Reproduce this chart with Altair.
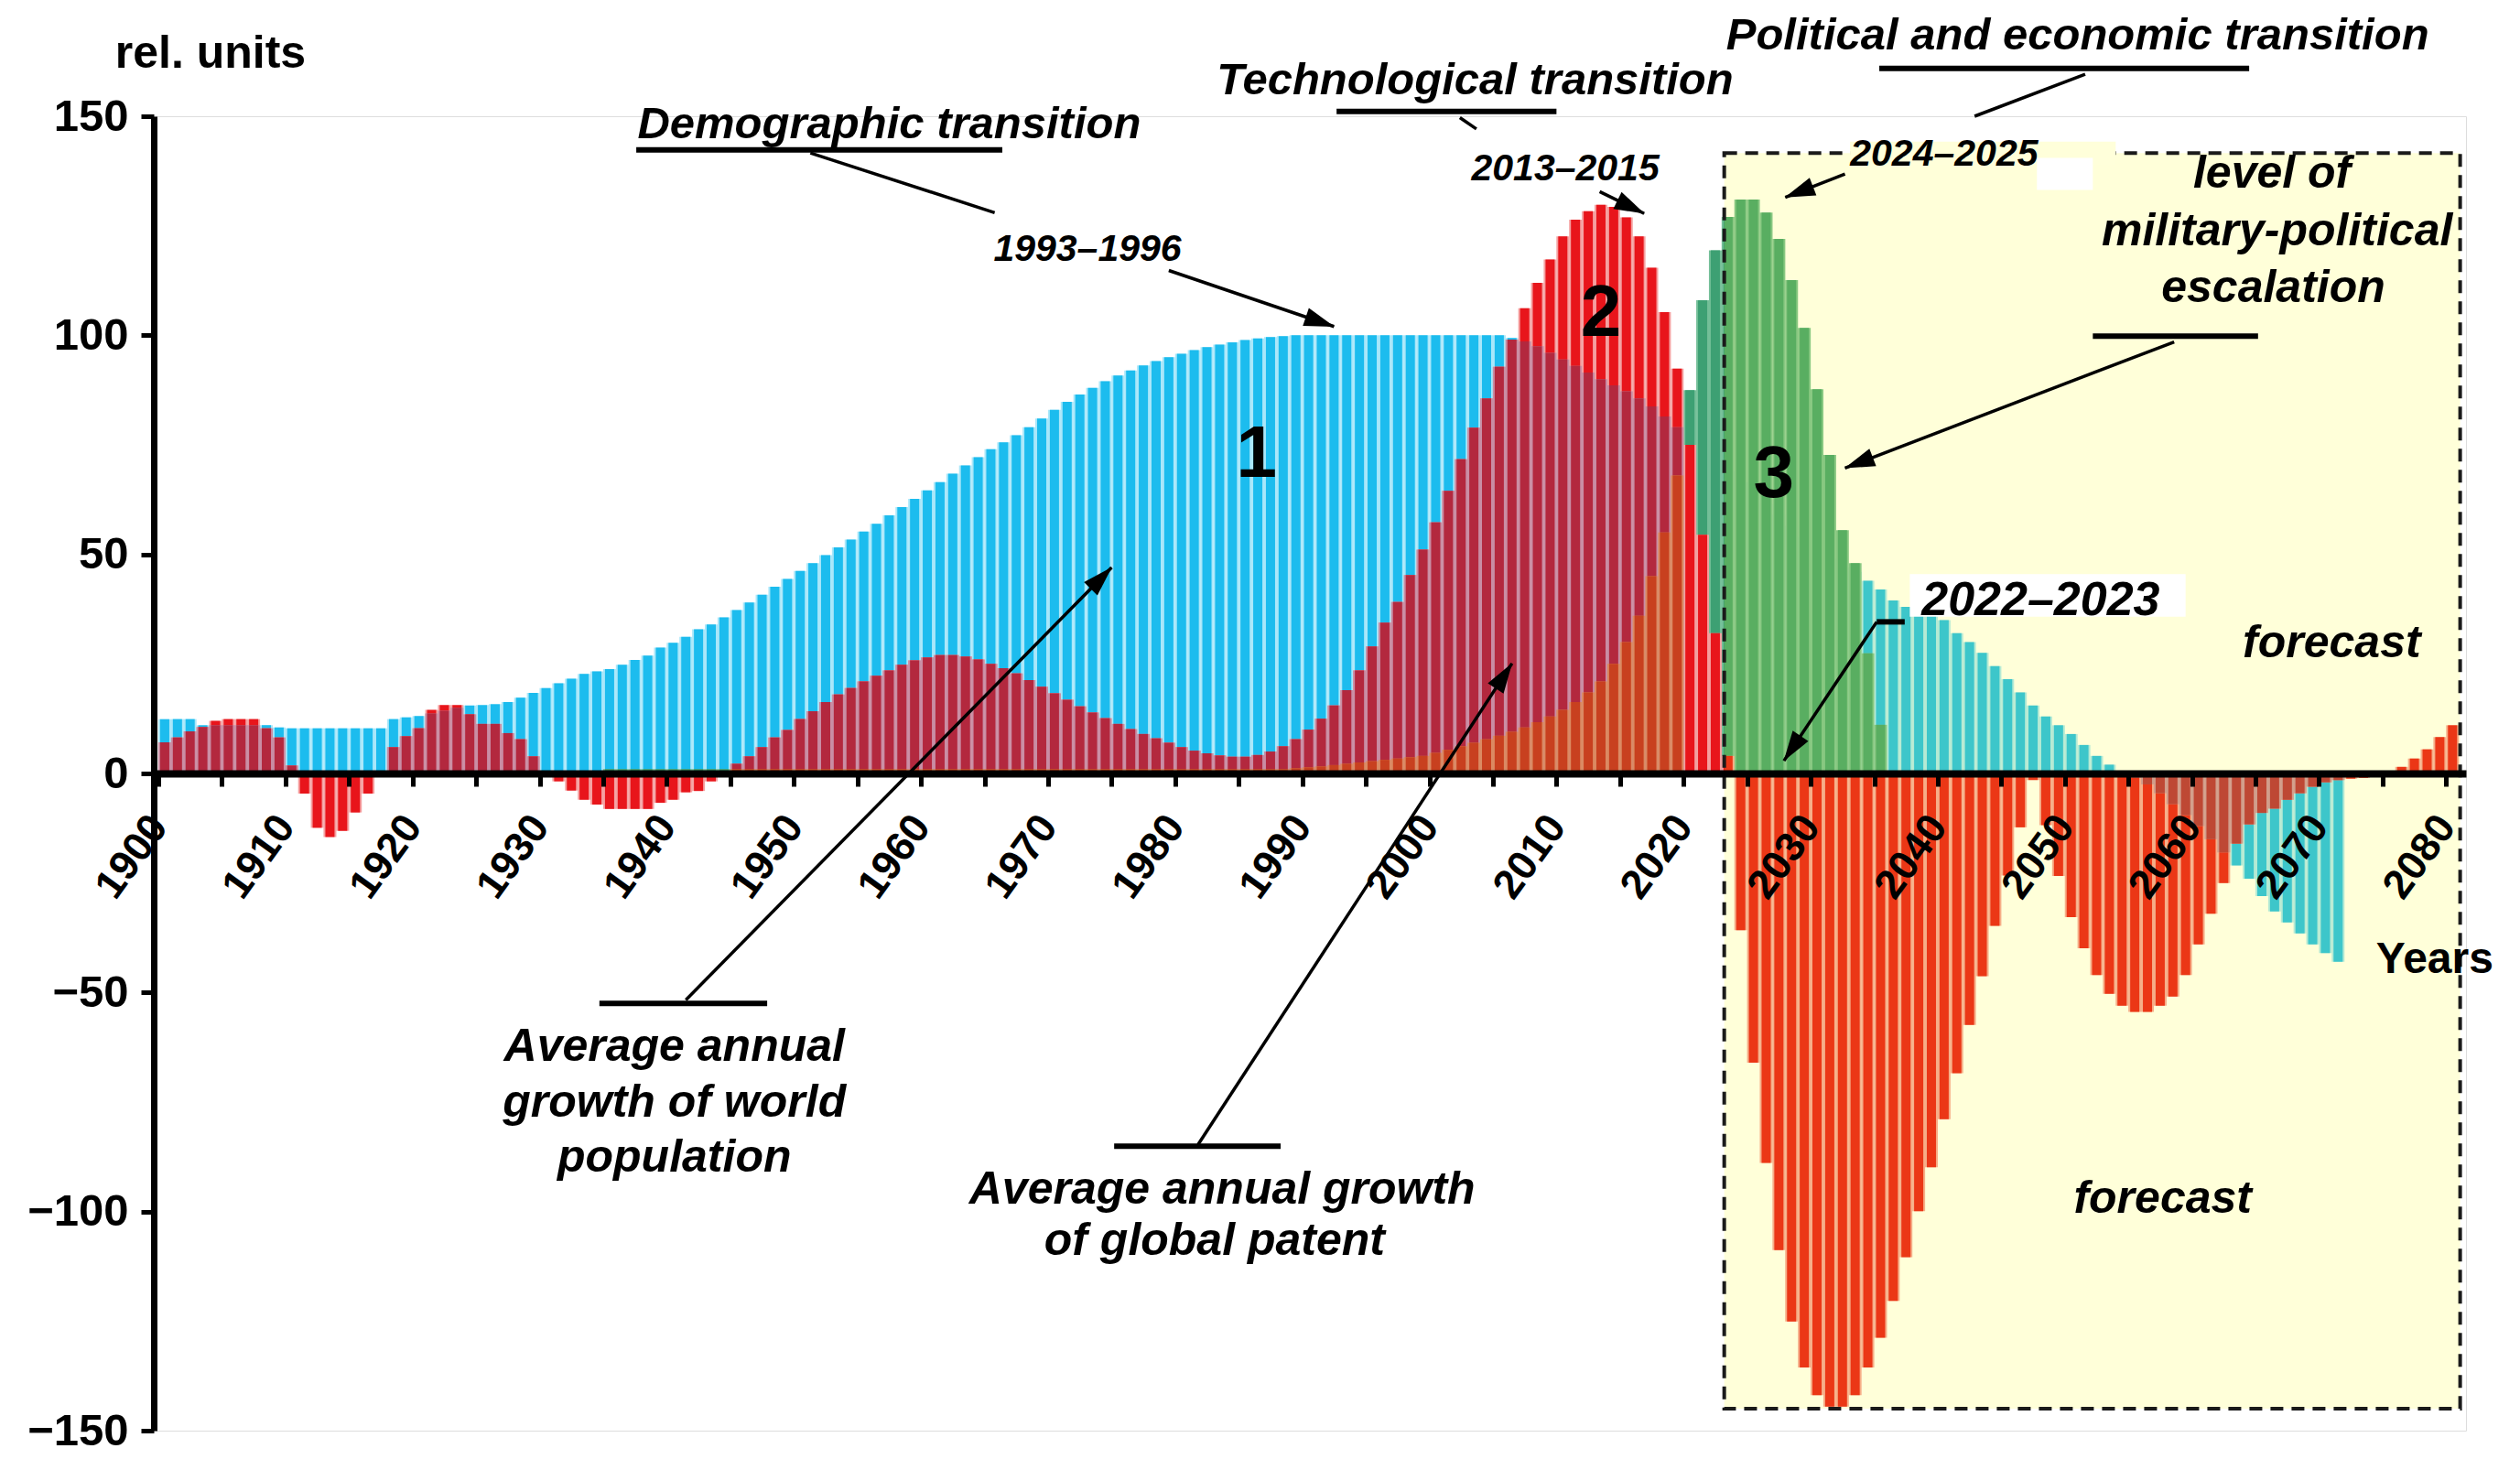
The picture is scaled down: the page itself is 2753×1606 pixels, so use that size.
import math
import numpy as np
import pandas as pd
import altair as alt

# ---------------- data ----------------
years = list(range(1900, 2081))

# 1 - average annual growth of world population (1900-2071)
cyan_values = [
    12.4, 12.4, 12.4, 11.0, 11.0, 11.0, 11.0, 11.0, 11.0, 10.5,
    10.3, 10.3, 10.3, 10.3, 10.3, 10.3, 10.3, 10.3, 12.4, 12.8,
    13.1, 13.7, 14.3, 15.0, 15.5, 15.6, 15.8, 16.3, 17.3, 18.4,
    19.5, 20.6, 21.6, 22.7, 23.3, 23.8, 24.8, 25.9, 26.9, 28.7,
    29.8, 31.2, 32.9, 34.0, 35.6, 37.3, 39.0, 40.8, 42.6, 44.4,
    46.2, 48.0, 49.8, 51.6, 53.4, 55.2, 57.0, 58.9, 60.8, 62.7,
    64.6, 66.5, 68.4, 70.3, 72.2, 74.0, 75.6, 77.2, 79.0, 81.0,
    83.0, 84.8, 86.5, 88.0, 89.5, 90.8, 92.0, 93.1, 94.1, 95.0,
    95.8, 96.6, 97.3, 97.9, 98.4, 98.9, 99.3, 99.6, 99.8, 100.0,
    100.0, 100.0, 100.0, 100.0, 100.0, 100.0, 100.0, 100.0, 100.0, 100.0,
    100.0, 100.0, 100.0, 100.0, 100.0, 100.0, 99.4, 98.6, 97.5, 96.0,
    94.5, 93.0, 91.5, 90.0, 88.6, 87.2, 85.6, 83.8, 81.5, 79.0,
    76.5, 74.0, 71.5, 69.0, 66.5, 64.0, 61.5, 59.0, 56.5, 54.0,
    51.5, 49.0, 47.0, 46.0, 44.0, 42.0, 39.5, 38.0, 37.0, 36.0,
    35.0, 32.0, 30.0, 27.5, 24.5, 21.5, 18.5, 15.5, 13.0, 11.0,
    9.0, 6.5, 4.0, 2.0, 0.5, -1.0, -2.5, -4.5, -7.0, -9.5,
    -12.0, -15.0, -18.0, -21.0, -24.0, -28.0, -31.5, -34.0, -36.5, -39.0,
    -41.0, -43.0,
]

# 2 - average annual growth of global patent (1900-2080)
red_values = [
    7.1, 8.2, 9.6, 10.6, 12.0, 12.4, 12.4, 12.4, 10.3, 8.2,
    1.8, -4.6, -12.4, -14.5, -13.1, -8.9, -4.6, 0.0, 6.0, 8.5,
    10.3, 14.5, 15.6, 15.6, 13.5, 11.3, 11.3, 9.2, 7.8, 3.9,
    0.5, -1.8, -3.9, -6.0, -7.1, -8.1, -8.1, -8.1, -8.1, -6.7,
    -6.0, -4.3, -4.0, -1.8, -0.5, 2.2, 3.9, 6.0, 8.2, 9.9,
    12.4, 14.2, 16.3, 18.0, 19.5, 21.0, 22.3, 23.5, 24.8, 25.8,
    26.5, 27.0, 27.0, 26.7, 26.0, 25.0, 24.0, 22.8, 21.3, 19.8,
    18.3, 16.8, 15.3, 13.9, 12.6, 11.3, 10.1, 9.0, 8.0, 7.0,
    6.0, 5.2, 4.6, 4.1, 3.8, 3.8, 4.2, 5.0, 6.2, 7.8,
    10.0, 12.5, 15.5, 19.0, 23.5, 29.0, 34.4, 39.1, 45.3, 51.1,
    57.3, 64.5, 71.7, 78.9, 85.6, 92.8, 99.0, 106.2, 112.0, 117.3,
    122.6, 126.4, 128.3, 129.8, 129.3, 126.9, 122.6, 115.4, 105.3, 92.4,
    75.0, 54.5, 32.0, 4.0, -35.8, -66.0, -88.9, -108.8, -125.1, -135.6,
    -141.9, -144.5, -144.5, -141.9, -135.6, -128.8, -120.4, -110.4, -99.9, -89.9,
    -78.9, -68.4, -57.4, -46.3, -34.8, -23.3, -12.3, -1.5, -11.8, -23.4,
    -32.8, -39.9, -46.0, -50.3, -53.0, -54.4, -54.4, -53.0, -50.9, -46.0,
    -39.0, -32.0, -25.0, -16.0, -11.6, -9.0, -8.0, -6.0, -4.5, -3.0,
    -2.0, -1.5, -1.2, -1.0, -0.5, 0.5, 1.5, 3.4, 5.5, 8.3,
    11.0,
]

# 3 - level of military-political escalation (1935-2035)
green_start = 1935
green_values = [
    1.0, 1.0, 1.0, 1.0, 1.0, 1.0, 1.0, 1.0, 1.0, 1.0,
    1.0, 1.0, 1.0, 1.0, 1.0, 1.0, 1.0, 1.0, 1.0, 1.0,
    1.0, 1.0, 1.0, 1.0, 1.0, 1.0, 1.0, 1.0, 1.0, 1.0,
    1.0, 1.0, 1.0, 1.0, 1.0, 1.0, 1.0, 1.0, 1.0, 1.0,
    1.0, 1.0, 1.0, 1.0, 1.0, 1.0, 1.0, 1.0, 1.0, 1.0,
    1.0, 1.0, 1.0, 1.0,
    1.2, 1.4, 1.6, 1.9, 2.2, 2.5, 2.8, 3.1, 3.4, 3.7,
    4.0, 4.7, 5.4, 6.2, 7.0, 7.8, 8.6, 9.5, 10.5, 11.7,
    13.0, 14.5, 16.3, 18.5, 21.0, 25.0, 30.0, 36.0, 45.0, 55.0,
    68.0, 87.5, 108.0, 119.4, 127.0, 131.0, 131.0, 128.0, 122.0, 112.6,
    101.7, 87.7, 72.7, 55.5, 48.0, 27.4, 11.1,
]

y_ticks = [-150, -100, -50, 0, 50, 100, 150]

# forecast zone and label patches (data coordinates)
forecast_zone = {"x": 2022.7, "x2": 2080.6, "y": -145.0, "y2": 141.6}
white_patches = [
    {"x": 2037.3, "x2": 2059.0, "y": 35.8, "y2": 45.5},
    {"x": 2047.3, "x2": 2051.7, "y": 133.2, "y2": 140.5},
]
border_gap = {"x": 2032.6, "x2": 2053.5, "y": 139.0, "y2": 144.2}

italic_labels = [
    ("Demographic transition", 1957.0, 148.2, 49),
    ("1993\u20131996", 1972.6, 119.6, 41),
    ("Technological transition", 2003.1, 158.1, 49),
    ("2013\u20132015", 2010.2, 137.9, 41),
    ("Political and economic transition", 2050.5, 168.4, 49),
    ("2024\u20132025", 2040.0, 141.2, 41),
    ("level of", 2065.8, 136.8, 50),
    ("military-political", 2066.2, 123.6, 50),
    ("escalation", 2065.9, 110.8, 50),
    ("2022\u20132023", 2047.6, 39.5, 52),
    ("forecast", 2070.5, 29.7, 50),
    ("forecast", 2057.2, -97.2, 50),
    ("Average annual", 1940.1, -62.4, 50),
    ("growth of world", 1940.1, -75.2, 50),
    ("population", 1940.1, -87.7, 50),
    ("Average annual growth", 1983.2, -95.0, 50),
    ("of global patent", 1982.6, -106.7, 50),
]
plain_labels = [
    ("rel. units", 1903.6, 164.3, 50),
    ("Years", 2078.6, -42.6, 48),
    ("1", 1985.9, 72.6, 80),
    ("2", 2013.0, 104.9, 80),
    ("3", 2026.6, 68.2, 80),
]

# leader bars (thick) and leader lines / arrows (thin), data coordinates
leader_bars = [
    (1937.1, 142.3, 1965.9, 142.3),
    (1992.2, 151.1, 2009.5, 151.1),
    (2034.9, 160.9, 2064.0, 160.9),
    (2034.7, 34.6, 2036.9, 34.6),
    (2051.7, 99.8, 2064.7, 99.8),
    (1934.2, -52.5, 1947.4, -52.5),
    (1974.7, -85.1, 1987.8, -85.1),
]
leader_lines = [
    (1950.8, 141.6, 1965.3, 128.0),
    (2001.9, 149.7, 2003.2, 147.1),
    (2051.1, 159.6, 2042.4, 150.0),
]
arrows = [
    (1979.0, 114.8, 1992.0, 102.0),
    (2012.9, 132.8, 2016.4, 127.8),
    (2032.2, 136.8, 2027.5, 131.5),
    (2034.7, 34.6, 2027.4, 2.9),
    (2058.1, 98.5, 2032.2, 69.7),
    (1941.0, -51.7, 1974.5, 47.0),
    (1981.3, -84.7, 2006.0, 25.1),
]

# ---------------- layout / styles ----------------
W, H = 2526, 1436
X0, X1 = 1899.5, 2080.7
Y0, Y1 = -150.0, 150.0
FONT = "Liberation Sans"
# (bar colour, tint seen in the gaps between bars)
CYAN = ("#1CBCEE", "#A9E7FA")
GREEN = ("#3DA073", "#74BF98")
RED = ("#E8151B", "#F5A0A0")
MAROON = ("#B3283E", "#C98DA4")
BROWN = ("#C8401F", "#DB8A62")
BAR_W = 10
GAP_W = 14
HEAD_SHAPE = "M0,-1L0.62,1L-0.62,1Z"
HEAD_SIZE = 1100
HEAD_BACK = 16

n = len(years)


def series(vals, start):
    arr = np.full(n, np.nan)
    arr[start - 1900:start - 1900 + len(vals)] = vals
    return arr


c = series(cyan_values, 1900)
r = series(red_values, 1900)
g = series(green_values, green_start)
gg = np.nan_to_num(g, nan=-1e9)
cc = np.nan_to_num(c, nan=0.0)
rr = np.nan_to_num(r, nan=0.0)

# red drawn over cyan -> maroon (not where green already covers the red bar)
oc_mask = (rr * cc > 0) & ~((gg >= rr) & (rr > 0))
oc = np.where(oc_mask, np.sign(rr) * np.minimum(np.abs(rr), np.abs(cc)), np.nan)
# red drawn over green -> brownish red
og = np.where((gg > 0) & (rr > gg), gg, np.nan)


def frame(vals):
    d = pd.DataFrame({"year": years, "v": vals})
    return d.dropna().reset_index(drop=True)


xs = alt.Scale(domain=[X0, X1], nice=False, zero=False)
ys = alt.Scale(domain=[Y0, Y1], nice=False, zero=False)

xaxis = alt.Axis(
    values=[1899.5 + 5 * i for i in range(37)],
    labelExpr="((datum.value + 0.5) % 10 == 0) ? toString(datum.value + 0.5) : ''",
    labelAngle=-54, labelAlign="right", labelBaseline="middle",
    labelFont=FONT, labelFontSize=45, labelFontWeight="bold", labelColor="black",
    labelOffset=0, labelPadding=36, labelOverlap=False, labelBound=False, labelFlush=False,
    tickSize=14, tickWidth=5, tickColor="black",
    domainColor="black", domainWidth=8, offset=-718,
    grid=False, title=None, zindex=1,
)
yaxis = alt.Axis(
    values=y_ticks, labelFont=FONT, labelFontSize=49, labelFontWeight="bold",
    labelColor="black", labelPadding=14, tickSize=14, tickWidth=5, tickColor="black",
    domainColor="black", domainWidth=7, grid=False, title=None, zindex=1,
)


def X(field):
    return alt.X(field, type="quantitative", scale=xs, axis=xaxis)


def Y(field):
    return alt.Y(field, type="quantitative", scale=ys, axis=yaxis, stack=None)


def bar_layers(vals, colors):
    d = frame(vals)
    under = alt.Chart(d).mark_bar(width=GAP_W, color=colors[1], strokeWidth=0).encode(
        x=X("year"), y=Y("v"), y2=alt.datum(0))
    top = alt.Chart(d).mark_bar(width=BAR_W, color=colors[0], strokeWidth=0).encode(
        x=X("year"), y=Y("v"), y2=alt.datum(0))
    return [under, top]


layers = []
layers += bar_layers(c, CYAN)
layers += bar_layers(g, GREEN)
layers += bar_layers(r, RED)
layers += bar_layers(oc, MAROON)
layers += bar_layers(og, BROWN)

zone_df = pd.DataFrame([forecast_zone])
layers.append(
    alt.Chart(zone_df).mark_rect(color="#FFFF00", opacity=0.15).encode(
        x=X("x"), x2="x2", y=Y("y"), y2="y2")
)
layers.append(
    alt.Chart(zone_df).mark_rect(fillOpacity=0, stroke="#1a1a1a", strokeWidth=4,
                                 strokeDash=[14, 9]).encode(
        x=X("x"), x2="x2", y=Y("y"), y2="y2")
)
layers.append(
    alt.Chart(pd.DataFrame([border_gap])).mark_rect(color="#FFFFDA").encode(
        x=X("x"), x2="x2", y=Y("y"), y2="y2")
)
layers.append(
    alt.Chart(pd.DataFrame(white_patches)).mark_rect(color="white").encode(
        x=X("x"), x2="x2", y=Y("y"), y2="y2")
)

# leader bars and lines
bars_df = pd.DataFrame(leader_bars, columns=["x", "y", "x2", "y2"])
layers.append(
    alt.Chart(bars_df).mark_rule(color="black", strokeWidth=6).encode(
        x=X("x"), y=Y("y"), x2="x2", y2="y2")
)
lines_df = pd.DataFrame(leader_lines + arrows, columns=["x", "y", "x2", "y2"])
layers.append(
    alt.Chart(lines_df).mark_rule(color="black", strokeWidth=3.5).encode(
        x=X("x"), y=Y("y"), x2="x2", y2="y2")
)

# arrowheads
PXX = W / (X1 - X0)
PXY = H / (Y1 - Y0)
heads = []
for (x0, y0, x1, y1) in arrows:
    px0, py0 = (x0 - X0) * PXX, (Y1 - y0) * PXY
    px1, py1 = (x1 - X0) * PXX, (Y1 - y1) * PXY
    dx, dy = px1 - px0, py1 - py0
    L = math.hypot(dx, dy)
    ux, uy = dx / L, dy / L
    cx, cy = px1 - ux * HEAD_BACK, py1 - uy * HEAD_BACK
    ang = math.degrees(math.atan2(dx, -dy)) % 360
    heads.append({"x": X0 + cx / PXX, "y": Y1 - cy / PXY, "ang": ang})
layers.append(
    alt.Chart(pd.DataFrame(heads)).mark_point(shape=HEAD_SHAPE, filled=True, color="black",
                                              opacity=1, size=HEAD_SIZE, strokeWidth=0).encode(
        x=X("x"), y=Y("y"), angle=alt.Angle("ang:Q", scale=None))
)

# texts
it_df = pd.DataFrame(italic_labels, columns=["t", "x", "y", "s"])
layers.append(
    alt.Chart(it_df).mark_text(font=FONT, fontStyle="italic", fontWeight="bold",
                               color="black", align="center", baseline="middle").encode(
        x=X("x"), y=Y("y"), text="t:N", size=alt.Size("s:Q", scale=None))
)
pl_df = pd.DataFrame(plain_labels, columns=["t", "x", "y", "s"])
layers.append(
    alt.Chart(pl_df).mark_text(font=FONT, fontWeight="bold",
                               color="black", align="center", baseline="middle").encode(
        x=X("x"), y=Y("y"), text="t:N", size=alt.Size("s:Q", scale=None))
)

chart = alt.layer(*layers).properties(
    width=W, height=H,
    autosize=alt.AutoSizeParams(type="none"),
    padding={"left": 160, "top": 119, "right": 40, "bottom": 25},
    background="white",
).configure_view(stroke=None).configure(font=FONT)

chart.save("out.html", embed_options={"renderer": "svg", "actions": False})
